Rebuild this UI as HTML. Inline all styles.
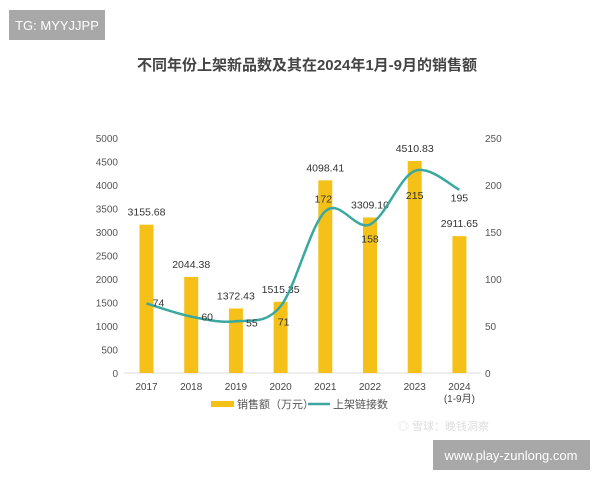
<!DOCTYPE html>
<html><head><meta charset="utf-8"><style>
body{margin:0;background:#fff;width:600px;height:480px;overflow:hidden;font-family:"Liberation Sans","Noto Sans CJK SC",sans-serif}
</style></head><body>
<svg width="600" height="480" font-family="Liberation Sans, Noto Sans CJK SC, sans-serif">
<rect x="9" y="10" width="96" height="30" fill="#a8a8a8"/>
<text x="57" y="30" text-anchor="middle" font-size="13" fill="#fff">TG: MYYJJPP</text>
<text x="307" y="70" text-anchor="middle" font-size="15" font-weight="bold" fill="#444">不同年份上架新品数及其在2024年1月-9月的销售额</text>
<g id="axes"></g><g id="bars"></g><g id="line"></g>
<g>
<rect x="211" y="401" width="23" height="6" fill="#f5c018"/>
<text x="237" y="408" font-size="11" fill="#555">销售额（万元）</text>
<line x1="308" y1="404" x2="330" y2="404" stroke="#3aa8a0" stroke-width="2.5"/>
<text x="333" y="408" font-size="11" fill="#555">上架链接数</text>
</g>
<text x="398" y="430" font-size="11" fill="#ddd">◎ 雪球：晚钱洞察</text>
<rect x="433" y="440" width="157" height="30" fill="#a8a8a8"/>
<text x="511" y="460" text-anchor="middle" font-size="13" fill="#fff">www.play-zunlong.com</text>
</svg>
<script>
const categories=["2017","2018","2019","2020","2021","2022","2023","2024"];
const sales=[3155.68,2044.38,1372.43,1515.35,4098.41,3309.10,4510.83,2911.65];
const listings=[74,60,55,71,172,158,215,195];
const leftTicks=[0,500,1000,1500,2000,2500,3000,3500,4000,4500,5000];
const rightTicks=[0,50,100,150,200,250];
const salesLabels=["3155.68","2044.38","1372.43","1515.35","4098.41","3309.10","4510.83","2911.65"];
const NS="http://www.w3.org/2000/svg";
const y0=373,yTop=138;
const yL=v=>y0-(v/5000)*(y0-yTop);
const yR=v=>y0-(v/250)*(y0-yTop);
const xC=i=>146.5+i*44.7;
function mk(tag,attrs,parent,txt){const e=document.createElementNS(NS,tag);for(const k in attrs)e.setAttribute(k,attrs[k]);if(txt!==undefined)e.textContent=txt;document.getElementById(parent).appendChild(e);return e;}
let e=mk('line',{x1:124,x2:481,y1:y0,y2:y0,stroke:'#ddd','stroke-width':1},'axes');


leftTicks.forEach(t=>{const el=mk('text',{x:118,y:yL(t)+4,'text-anchor':'end','font-size':10,fill:'#555'},'axes',t);

});
rightTicks.forEach(t=>{const el=mk('text',{x:485,y:yR(t)+4,'font-size':10,fill:'#555'},'axes',t);

});
categories.forEach((c,i)=>{const el=mk('text',{x:xC(i),y:390,'text-anchor':'middle','font-size':10,fill:'#444'},'axes',c);

});
e=mk('text',{x:xC(7),y:402,'text-anchor':'middle','font-size':10,fill:'#444'},'axes','(1-9月)');


sales.forEach((v,i)=>{const b=mk('rect',{x:xC(i)-7,y:yL(v),width:14,height:y0-yL(v),fill:'#f5c018'},'bars');


const t=mk('text',{x:xC(i),y:yL(v)-9,'text-anchor':'middle','font-size':10.5,fill:'#333'},'bars',salesLabels[i]);

});
const pts=listings.map((v,i)=>[xC(i),yR(v)]);
let d='M'+pts[0][0]+','+pts[0][1];
for(let i=0;i<pts.length-1;i++){const p0=pts[Math.max(0,i-1)],p1=pts[i],p2=pts[i+1],p3=pts[Math.min(pts.length-1,i+2)];
const c1=[p1[0]+(p2[0]-p0[0])/6,p1[1]+(p2[1]-p0[1])/6],c2=[p2[0]-(p3[0]-p1[0])/6,p2[1]-(p3[1]-p1[1])/6];
d+=` C${c1[0]},${c1[1]} ${c2[0]},${c2[1]} ${p2[0]},${p2[1]}`;}
e=mk('path',{d:d,fill:'none',stroke:'#3aa8a0','stroke-width':2.5},'line');


const off=[[12,3],[16,4],[16,5],[3,19],[-2,-9],[0,18],[0,28],[0,12]];
listings.forEach((v,i)=>{const t=mk('text',{x:pts[i][0]+off[i][0],y:pts[i][1]+off[i][1],'text-anchor':'middle','font-size':10.5,fill:'#333'},'line',v);

});
</script>
</body></html>
